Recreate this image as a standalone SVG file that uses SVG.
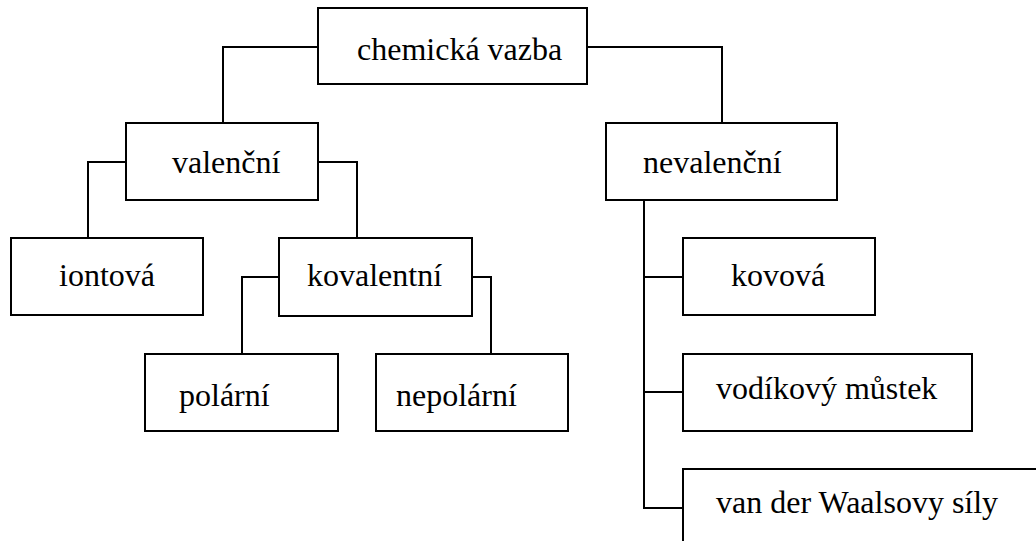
<svg xmlns="http://www.w3.org/2000/svg" width="1036" height="541" viewBox="0 0 1036 541">
<style>
.box{fill:#fff;stroke:#000;stroke-width:2}
.ln{fill:none;stroke:#000;stroke-width:2}
text{font-family:"Liberation Serif","Times New Roman",serif;font-size:32px;fill:#000}
</style>
<rect width="1036" height="541" fill="#fff"/>
<g id="connectors">
<polyline class="ln" points="318,47 223,47 223,123"/>
<polyline class="ln" points="587,47 722,47 722,123"/>
<polyline class="ln" points="126,162 88,162 88,238"/>
<polyline class="ln" points="318,162 357,162 357,238"/>
<polyline class="ln" points="279,277 242,277 242,354"/>
<polyline class="ln" points="472,277 491,277 491,354"/>
<polyline class="ln" points="644,200 644,508 683,508"/>
<line class="ln" x1="644" y1="277" x2="683" y2="277"/>
<line class="ln" x1="644" y1="392" x2="683" y2="392"/>
</g>
<g id="n-chemicka"><rect class="box" x="318" y="8" width="269" height="76"/><text x="357" y="60">chemická vazba</text></g>
<g id="n-valencni"><rect class="box" x="126" y="123" width="192" height="77"/><text x="172" y="173">valenční</text></g>
<g id="n-nevalencni"><rect class="box" x="606" y="123" width="231" height="77"/><text x="643" y="173">nevalenční</text></g>
<g id="n-iontova"><rect class="box" x="11" y="238" width="192" height="77"/><text x="59" y="286">iontová</text></g>
<g id="n-kovalentni"><rect class="box" x="279" y="238" width="193" height="78"/><text x="307" y="286">kovalentní</text></g>
<g id="n-polarni"><rect class="box" x="145" y="354" width="193" height="77"/><text x="179" y="406">polární</text></g>
<g id="n-nepolarni"><rect class="box" x="376" y="354" width="192" height="77"/><text x="396" y="406">nepolární</text></g>
<g id="n-kovova"><rect class="box" x="683" y="238" width="192" height="77"/><text x="731" y="286">kovová</text></g>
<g id="n-vodikovy"><rect class="box" x="683" y="354" width="289" height="77"/><text x="716" y="399">vodíkový můstek</text></g>
<g id="n-vanderwaals"><rect class="box" x="683" y="469" width="400" height="100"/><text x="716" y="513">van der Waalsovy síly</text></g>
</svg>
